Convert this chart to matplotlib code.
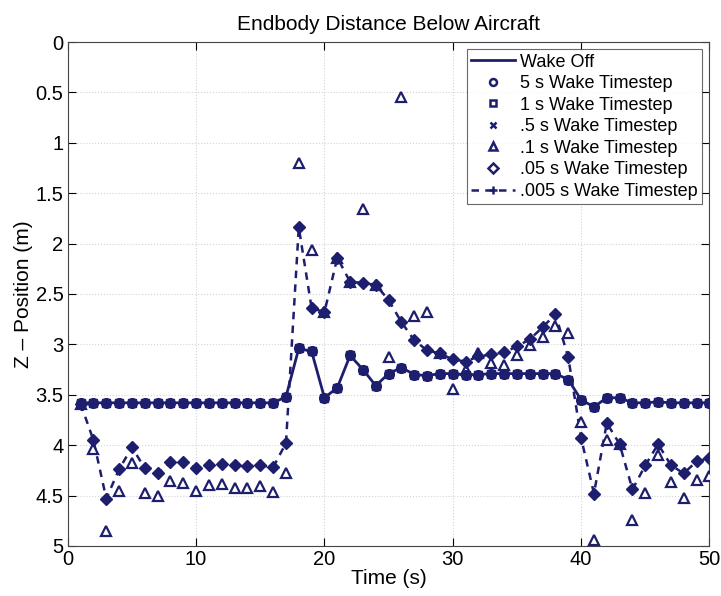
import numpy as np
import matplotlib
matplotlib.use("Agg")
import matplotlib.pyplot as plt
from matplotlib.lines import Line2D

plt.rcParams['font.family'] = ['Liberation Sans', 'DejaVu Sans']

time_s = np.arange(1, 51)

wake_off = [3.58, 3.58, 3.58, 3.58, 3.58, 3.58, 3.58, 3.58, 3.58, 3.58,
            3.58, 3.58, 3.58, 3.58, 3.58, 3.58, 3.52, 3.04, 3.07, 3.53,
            3.43, 3.11, 3.25, 3.41, 3.29, 3.23, 3.30, 3.31, 3.29, 3.29,
            3.30, 3.30, 3.29, 3.29, 3.29, 3.29, 3.29, 3.29, 3.35, 3.55,
            3.62, 3.53, 3.53, 3.58, 3.58, 3.57, 3.58, 3.58, 3.58, 3.58]

# .05 s and .005 s runs sit on top of each other
step_005 = [3.59, 3.95, 4.53, 4.24, 4.02, 4.23, 4.28, 4.17, 4.17, 4.23,
            4.20, 4.19, 4.20, 4.21, 4.20, 4.22, 3.98, 1.84, 2.64, 2.68,
            2.14, 2.38, 2.39, 2.41, 2.56, 2.78, 2.96, 3.06, 3.09, 3.15,
            3.17, 3.12, 3.10, 3.08, 3.02, 2.95, 2.83, 2.70, 3.13, 3.93,
            4.48, 3.78, 3.99, 4.44, 4.20, 3.99, 4.20, 4.28, 4.16, 4.13]

step_01 = [3.59, 4.04, 4.85, 4.45, 4.18, 4.47, 4.50, 4.36, 4.38, 4.45,
           4.40, 4.39, 4.43, 4.43, 4.41, 4.46, 4.28, 1.20, 2.06, 2.68,
           2.14, 2.38, 1.66, 2.41, 3.13, 0.55, 2.72, 2.68, 3.09, 3.44,
           3.25, 3.09, 3.18, 3.20, 3.11, 3.01, 2.93, 2.82, 2.89, 3.77,
           4.94, 3.95, 3.99, 4.74, 4.47, 4.10, 4.37, 4.52, 4.35, 4.31]

labels = ["Wake Off", "5 s Wake Timestep", "1 s Wake Timestep",
          ".5 s Wake Timestep", ".1 s Wake Timestep", ".05 s Wake Timestep",
          ".005 s Wake Timestep"]

navy = '#1e1e6e'

fig = plt.figure(figsize=(7.21, 5.96), dpi=100)
ax = fig.add_axes([0.094, 0.084, 0.890, 0.8455])

# coarse timesteps collapse onto the wake-off line
ax.plot(time_s, wake_off, '-', color=navy, lw=2, zorder=3)
ax.plot(time_s, wake_off, 'o', color=navy, ms=7, zorder=4)
ax.plot(time_s, wake_off, 's', color=navy, ms=6, zorder=4)
ax.plot(time_s, wake_off, 'x', color=navy, ms=5, mew=1.5, zorder=4)

ax.plot(time_s, step_01, '^', color=navy, ms=7, mfc='white', mew=1.6, zorder=3.5)
ax.plot(time_s, step_005, 'D', color=navy, ms=6.5, zorder=4)
ax.plot(time_s, step_005, '--', color=navy, lw=1.8, dashes=(3, 2.5), zorder=3)
ax.plot(time_s, step_005, '+', color=navy, ms=7, mew=1.5, zorder=4)

ax.set_xlim(0, 50)
ax.set_ylim(5, 0)
ax.set_xticks(np.arange(0, 51, 10))
ax.set_yticks(np.arange(0, 5.01, 0.5))
ax.set_yticklabels(['0', '0.5', '1', '1.5', '2', '2.5', '3', '3.5', '4', '4.5', '5'])
ax.tick_params(direction='in', top=True, right=True, labelsize=14.5, length=6, pad=3)
ax.grid(True, linestyle=':', color='#d4d4d4', lw=0.8)
for s in ax.spines.values():
    s.set_color('#444444')

ax.set_title("Endbody Distance Below Aircraft", fontsize=15, pad=9)
ax.set_xlabel("Time (s)", fontsize=15, labelpad=0)
ax.set_ylabel("Z \u2013 Position (m)", fontsize=15, labelpad=2)

handles = [
    Line2D([], [], color=navy, lw=2),
    Line2D([], [], ls='none', marker='o', color=navy, mfc='none', ms=5, mew=1.8),
    Line2D([], [], ls='none', marker='s', color=navy, mfc='none', ms=5, mew=1.8),
    Line2D([], [], ls='none', marker='x', color=navy, ms=4, mew=1.8),
    Line2D([], [], ls='none', marker='^', color=navy, mfc='none', ms=6, mew=1.8),
    Line2D([], [], ls='none', marker='D', color=navy, mfc='none', ms=5, mew=1.8),
    Line2D([], [], ls='--', marker='+', color=navy, ms=6, mew=1.8, lw=1.8, dashes=(3, 2.5)),
]
leg = ax.legend(handles, labels, loc='upper right', fontsize=13, frameon=True,
                fancybox=False, edgecolor='#444444', handlelength=2.4,
                handletextpad=0.3, labelspacing=0.25, borderpad=0.25,
                borderaxespad=0.4)
leg.get_frame().set_linewidth(0.8)

fig.savefig("out.png", dpi=100)
